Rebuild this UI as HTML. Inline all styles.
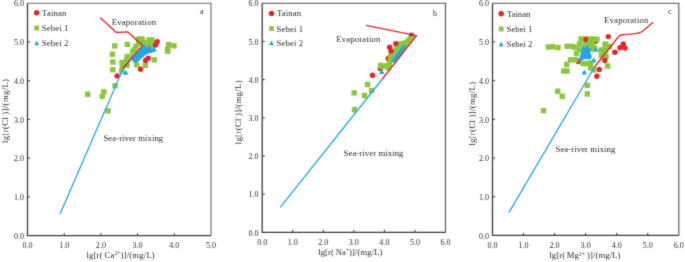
<!DOCTYPE html>
<html><head><meta charset="utf-8"><style>
html,body{margin:0;padding:0;background:#fff;width:685px;height:262px;overflow:hidden}
svg{display:block;will-change:transform}
text{font-family:"Liberation Serif", serif;fill:#2e2e2e}
</style></head><body>
<svg width="685" height="262" viewBox="0 0 685 262">
<defs><filter id="soft" filterUnits="userSpaceOnUse" x="0" y="0" width="685" height="262" color-interpolation-filters="sRGB"><feConvolveMatrix order="3" kernelMatrix="1 2 1 2 20 2 1 2 1" divisor="32" edgeMode="duplicate"/></filter></defs>
<g filter="url(#soft)">
<rect width="685" height="262" fill="#fff"/>
<path d="M27.5 3.2H211.0V235.6" fill="none" stroke="#6c6c6c" stroke-width="1.1"/>
<path d="M27.5 3.2V235.6H211.0" fill="none" stroke="#3c3c3c" stroke-width="1.3"/>
<path d="M64.20 235.6v-2.6 M100.90 235.6v-2.6 M137.60 235.6v-2.6 M174.30 235.6v-2.6 M27.5 196.87h2.6 M27.5 158.13h2.6 M27.5 119.40h2.6 M27.5 80.67h2.6 M27.5 41.93h2.6" stroke="#3c3c3c" stroke-width="1"/>
<text x="27.50" y="247.70" font-size="8.1" text-anchor="middle" >0.0</text>
<text x="64.20" y="247.70" font-size="8.1" text-anchor="middle" >1.0</text>
<text x="100.90" y="247.70" font-size="8.1" text-anchor="middle" >2.0</text>
<text x="137.60" y="247.70" font-size="8.1" text-anchor="middle" >3.0</text>
<text x="174.30" y="247.70" font-size="8.1" text-anchor="middle" >4.0</text>
<text x="211.00" y="247.70" font-size="8.1" text-anchor="middle" >5.0</text>
<text x="23.90" y="238.80" font-size="8" text-anchor="end" >0.0</text>
<text x="23.90" y="200.07" font-size="8" text-anchor="end" >1.0</text>
<text x="23.90" y="161.33" font-size="8" text-anchor="end" >2.0</text>
<text x="23.90" y="122.60" font-size="8" text-anchor="end" >3.0</text>
<text x="23.90" y="83.87" font-size="8" text-anchor="end" >4.0</text>
<text x="23.90" y="45.13" font-size="8" text-anchor="end" >5.0</text>
<text x="23.90" y="6.40" font-size="8" text-anchor="end" >6.0</text>
<path d="M262.2 3.2H445.5V232.4" fill="none" stroke="#505050" stroke-width="1.1"/>
<path d="M262.2 3.2V232.4H445.5" fill="none" stroke="#3c3c3c" stroke-width="1.3"/>
<path d="M292.75 232.4v-2.6 M323.30 232.4v-2.6 M353.85 232.4v-2.6 M384.40 232.4v-2.6 M414.95 232.4v-2.6 M262.2 194.20h2.6 M262.2 156.00h2.6 M262.2 117.80h2.6 M262.2 79.60h2.6 M262.2 41.40h2.6" stroke="#3c3c3c" stroke-width="1"/>
<text x="262.20" y="244.50" font-size="8.1" text-anchor="middle" >0.0</text>
<text x="292.75" y="244.50" font-size="8.1" text-anchor="middle" >1.0</text>
<text x="323.30" y="244.50" font-size="8.1" text-anchor="middle" >2.0</text>
<text x="353.85" y="244.50" font-size="8.1" text-anchor="middle" >3.0</text>
<text x="384.40" y="244.50" font-size="8.1" text-anchor="middle" >4.0</text>
<text x="414.95" y="244.50" font-size="8.1" text-anchor="middle" >5.0</text>
<text x="445.50" y="244.50" font-size="8.1" text-anchor="middle" >6.0</text>
<text x="258.60" y="235.60" font-size="8" text-anchor="end" >0.0</text>
<text x="258.60" y="197.40" font-size="8" text-anchor="end" >1.0</text>
<text x="258.60" y="159.20" font-size="8" text-anchor="end" >2.0</text>
<text x="258.60" y="121.00" font-size="8" text-anchor="end" >3.0</text>
<text x="258.60" y="82.80" font-size="8" text-anchor="end" >4.0</text>
<text x="258.60" y="44.60" font-size="8" text-anchor="end" >5.0</text>
<text x="258.60" y="6.40" font-size="8" text-anchor="end" >6.0</text>
<path d="M492.5 3.2H678.8V235.4" fill="none" stroke="#555555" stroke-width="1.1"/>
<path d="M492.5 3.2V235.4H678.8" fill="none" stroke="#3c3c3c" stroke-width="1.3"/>
<path d="M523.55 235.4v-2.6 M554.60 235.4v-2.6 M585.65 235.4v-2.6 M616.70 235.4v-2.6 M647.75 235.4v-2.6 M492.5 196.70h2.6 M492.5 158.00h2.6 M492.5 119.30h2.6 M492.5 80.60h2.6 M492.5 41.90h2.6" stroke="#3c3c3c" stroke-width="1"/>
<text x="492.50" y="247.50" font-size="8.1" text-anchor="middle" >0.0</text>
<text x="523.55" y="247.50" font-size="8.1" text-anchor="middle" >1.0</text>
<text x="554.60" y="247.50" font-size="8.1" text-anchor="middle" >2.0</text>
<text x="585.65" y="247.50" font-size="8.1" text-anchor="middle" >3.0</text>
<text x="616.70" y="247.50" font-size="8.1" text-anchor="middle" >4.0</text>
<text x="647.75" y="247.50" font-size="8.1" text-anchor="middle" >5.0</text>
<text x="678.80" y="247.50" font-size="8.1" text-anchor="middle" >6.0</text>
<text x="488.90" y="238.60" font-size="8" text-anchor="end" >0.0</text>
<text x="488.90" y="199.90" font-size="8" text-anchor="end" >1.0</text>
<text x="488.90" y="161.20" font-size="8" text-anchor="end" >2.0</text>
<text x="488.90" y="122.50" font-size="8" text-anchor="end" >3.0</text>
<text x="488.90" y="83.80" font-size="8" text-anchor="end" >4.0</text>
<text x="488.90" y="45.10" font-size="8" text-anchor="end" >5.0</text>
<text x="488.90" y="6.40" font-size="8" text-anchor="end" >6.0</text>
<circle cx="36.70" cy="12.80" r="2.75" fill="#e8222b"/>
<rect x="34.30" y="25.70" width="4.8" height="4.8" fill="#8cc63e"/>
<path d="M36.70 40.70L39.20 45.30L34.20 45.30Z" fill="#23a6e2"/>
<text x="42.1" y="15.70" font-size="8.7" text-anchor="start" letter-spacing="0.14">Tainan</text>
<text x="41.80" y="31.00" font-size="8.7" text-anchor="start" letter-spacing="0.14">Sebei 1</text>
<text x="41.80" y="45.90" font-size="8.7" text-anchor="start" letter-spacing="0.14">Sebei 2</text>
<circle cx="271.50" cy="13.40" r="2.75" fill="#e8222b"/>
<rect x="269.10" y="26.20" width="4.8" height="4.8" fill="#8cc63e"/>
<path d="M271.50 40.60L274.00 45.20L269.00 45.20Z" fill="#23a6e2"/>
<text x="276.9" y="16.30" font-size="8.7" text-anchor="start" letter-spacing="0.12">Tainan</text>
<text x="276.60" y="31.50" font-size="8.7" text-anchor="start" letter-spacing="0.12">Sebei 1</text>
<text x="276.60" y="45.80" font-size="8.7" text-anchor="start" letter-spacing="0.12">Sebei 2</text>
<circle cx="501.20" cy="13.70" r="2.75" fill="#e8222b"/>
<rect x="498.80" y="26.60" width="4.8" height="4.8" fill="#8cc63e"/>
<path d="M501.20 41.80L503.70 46.40L498.70 46.40Z" fill="#23a6e2"/>
<text x="506.9" y="16.60" font-size="8.7" text-anchor="start" letter-spacing="0.0">Tainan</text>
<text x="506.60" y="31.90" font-size="8.7" text-anchor="start" letter-spacing="0.0">Sebei 1</text>
<text x="506.60" y="47.00" font-size="8.7" text-anchor="start" letter-spacing="0.0">Sebei 2</text>
<text x="201.7" y="14.3" font-size="8" text-anchor="middle" >a</text>
<text x="435.1" y="15.8" font-size="8" text-anchor="middle" >b</text>
<text x="669.7" y="14.2" font-size="8" text-anchor="middle" >c</text>
<text x="111.7" y="24.8" font-size="8.8" text-anchor="start" letter-spacing="0.14">Evaporation</text>
<text x="336.2" y="42.2" font-size="8.7" text-anchor="start" letter-spacing="0.18">Evaporation</text>
<text x="604.1" y="23.0" font-size="8.7" text-anchor="start" letter-spacing="0.18">Evaporation</text>
<text x="103.4" y="140.8" font-size="8.7" text-anchor="start" letter-spacing="0.08">Sea-river mixing</text>
<text x="343.6" y="156.0" font-size="8.7" text-anchor="start" letter-spacing="0.08">Sea-river mixing</text>
<text x="555.5" y="151.9" font-size="8.7" text-anchor="start" letter-spacing="0.08">Sea-river mixing</text>
<text x="86.4" y="257.5" font-size="8.6" letter-spacing="0.22">lg[r( <tspan dx="-0.6">Ca</tspan><tspan font-size="5.2" dy="-2.6">2+</tspan><tspan dy="2.6">)]/(mg/L)</tspan></text>
<text x="318.2" y="254.9" font-size="8.6" letter-spacing="0.12">lg[r( <tspan dx="-0.6">Na</tspan><tspan font-size="5.2" dy="-2.6">+</tspan><tspan dy="2.6">)]/(mg/L)</tspan></text>
<text x="549.3" y="258.4" font-size="8.6" letter-spacing="0.12">lg[r( <tspan dx="-0.6">Mg</tspan><tspan font-size="5.2" dy="-2.6">2+</tspan><tspan dy="2.6"> )]/(mg/L)</tspan></text>
<text transform="translate(7.6,110.8) rotate(-90)" font-size="8.6" text-anchor="middle" letter-spacing="0.4">lg[r(Cl<tspan font-size="5" dy="-3">-</tspan><tspan dy="3">)]/(mg/L)</tspan></text>
<text transform="translate(241.4,112.2) rotate(-90)" font-size="8.6" text-anchor="middle" letter-spacing="0.4">lg[r(Cl<tspan font-size="5" dy="-3">-</tspan><tspan dy="3">)]/(mg/L)</tspan></text>
<text transform="translate(475.4,113.7) rotate(-90)" font-size="8.6" text-anchor="middle" letter-spacing="0.4">lg[r(Cl<tspan font-size="5" dy="-3">-</tspan><tspan dy="3">)]/(mg/L)</tspan></text>
<rect x="112.10" y="43.20" width="5.4" height="5.4" fill="#8cc63e"/>
<rect x="124.60" y="41.70" width="5.4" height="5.4" fill="#8cc63e"/>
<rect x="109.70" y="51.50" width="5.4" height="5.4" fill="#8cc63e"/>
<rect x="110.10" y="59.30" width="5.4" height="5.4" fill="#8cc63e"/>
<rect x="110.10" y="67.00" width="5.4" height="5.4" fill="#8cc63e"/>
<rect x="119.30" y="59.80" width="5.4" height="5.4" fill="#8cc63e"/>
<rect x="123.80" y="57.50" width="5.4" height="5.4" fill="#8cc63e"/>
<rect x="124.50" y="53.80" width="5.4" height="5.4" fill="#8cc63e"/>
<rect x="119.00" y="68.20" width="5.4" height="5.4" fill="#8cc63e"/>
<rect x="112.30" y="83.00" width="5.4" height="5.4" fill="#8cc63e"/>
<rect x="101.20" y="89.20" width="5.4" height="5.4" fill="#8cc63e"/>
<rect x="99.50" y="93.70" width="5.4" height="5.4" fill="#8cc63e"/>
<rect x="85.00" y="91.50" width="5.4" height="5.4" fill="#8cc63e"/>
<rect x="105.30" y="108.20" width="5.4" height="5.4" fill="#8cc63e"/>
<rect x="135.80" y="36.30" width="5.4" height="5.4" fill="#8cc63e"/>
<rect x="139.30" y="36.30" width="5.4" height="5.4" fill="#8cc63e"/>
<rect x="146.30" y="37.30" width="5.4" height="5.4" fill="#8cc63e"/>
<rect x="149.30" y="37.30" width="5.4" height="5.4" fill="#8cc63e"/>
<rect x="148.80" y="40.80" width="5.4" height="5.4" fill="#8cc63e"/>
<rect x="144.30" y="39.80" width="5.4" height="5.4" fill="#8cc63e"/>
<rect x="135.80" y="40.80" width="5.4" height="5.4" fill="#8cc63e"/>
<rect x="140.80" y="39.80" width="5.4" height="5.4" fill="#8cc63e"/>
<rect x="133.30" y="43.80" width="5.4" height="5.4" fill="#8cc63e"/>
<rect x="131.60" y="47.10" width="5.4" height="5.4" fill="#8cc63e"/>
<rect x="130.10" y="48.80" width="5.4" height="5.4" fill="#8cc63e"/>
<rect x="127.80" y="54.30" width="5.4" height="5.4" fill="#8cc63e"/>
<rect x="124.30" y="62.60" width="5.4" height="5.4" fill="#8cc63e"/>
<rect x="119.80" y="63.80" width="5.4" height="5.4" fill="#8cc63e"/>
<rect x="144.50" y="42.30" width="5.4" height="5.4" fill="#8cc63e"/>
<rect x="149.30" y="43.30" width="5.4" height="5.4" fill="#8cc63e"/>
<rect x="151.60" y="57.10" width="5.4" height="5.4" fill="#8cc63e"/>
<rect x="133.90" y="62.10" width="5.4" height="5.4" fill="#8cc63e"/>
<rect x="142.60" y="62.60" width="5.4" height="5.4" fill="#8cc63e"/>
<rect x="166.00" y="41.90" width="5.4" height="5.4" fill="#8cc63e"/>
<rect x="171.20" y="43.10" width="5.4" height="5.4" fill="#8cc63e"/>
<rect x="164.80" y="46.80" width="5.4" height="5.4" fill="#8cc63e"/>
<rect x="165.10" y="48.60" width="5.4" height="5.4" fill="#8cc63e"/>
<path d="M130.8 59.2 L142.2 45.7 L144.9 45.1 L146.8 48 L149.1 44.8 L151.7 49.2 L154 47.1 L156.9 50.9 L153.3 52.2 L148.7 53.4 L145.6 54.9 L142.6 57.6 L139.5 60.5 L136 62.8 L134 62.5Z" fill="#23a6e2"/>
<path d="M132.60 55.30L135.40 60.30L129.80 60.30Z" fill="#23a6e2"/>
<path d="M125.70 69.80L128.50 74.80L122.90 74.80Z" fill="#23a6e2"/>
<circle cx="157.20" cy="41.60" r="2.7" fill="#e8222b"/>
<circle cx="155.60" cy="45.00" r="2.7" fill="#e8222b"/>
<circle cx="145.60" cy="60.40" r="2.7" fill="#e8222b"/>
<circle cx="148.20" cy="58.10" r="2.7" fill="#e8222b"/>
<circle cx="140.50" cy="69.30" r="2.7" fill="#e8222b"/>
<circle cx="117.10" cy="75.90" r="2.7" fill="#e8222b"/>
<path d="M60 214 L123.2 68.6 L143.4 45.6" fill="none" stroke="#23a6e2" stroke-width="1.3"/>
<path d="M100 17.4 L116.5 32.5 L127.8 31.9 L142.6 45.4 L122.6 68.6" fill="none" stroke="#e8222b" stroke-width="1.3"/>
<circle cx="411.50" cy="35.30" r="2.7" fill="#e8222b"/>
<circle cx="380.30" cy="68.60" r="2.7" fill="#e8222b"/>
<circle cx="388.20" cy="58.40" r="2.7" fill="#e8222b"/>
<path d="M416.5 35.6 L413.6 36.1 L407.9 36.5 L407.2 37.6 L405.6 39.2 L404.1 40.3 L401.8 41.1 L397.7 41.6 L395.5 43.5 L393.4 48.5 L388.6 53.7 L387.6 55 L387.6 62.5 L395.6 62.5 Z" fill="#8cc63e"/>
<rect x="364.80" y="81.80" width="5.4" height="5.4" fill="#8cc63e"/>
<rect x="351.50" y="90.20" width="5.4" height="5.4" fill="#8cc63e"/>
<rect x="361.80" y="92.80" width="5.4" height="5.4" fill="#8cc63e"/>
<rect x="368.80" y="87.90" width="5.4" height="5.4" fill="#8cc63e"/>
<rect x="351.80" y="107.00" width="5.4" height="5.4" fill="#8cc63e"/>
<rect x="378.00" y="62.70" width="5.4" height="5.4" fill="#8cc63e"/>
<rect x="383.90" y="63.20" width="5.4" height="5.4" fill="#8cc63e"/>
<rect x="385.30" y="65.10" width="5.4" height="5.4" fill="#8cc63e"/>
<rect x="386.80" y="61.30" width="5.4" height="5.4" fill="#8cc63e"/>
<rect x="378.80" y="63.80" width="5.4" height="5.4" fill="#8cc63e"/>
<circle cx="389.60" cy="47.30" r="2.7" fill="#e8222b"/>
<circle cx="391.00" cy="51.00" r="2.7" fill="#e8222b"/>
<circle cx="395.80" cy="43.60" r="2.7" fill="#e8222b"/>
<path d="M390.5 62.2 L403.6 44.2 L405.9 47.3 L394.9 62.2Z" fill="#23a6e2"/>
<path d="M381.80 69.10L384.60 74.10L379.00 74.10Z" fill="#23a6e2"/>
<circle cx="372.50" cy="75.30" r="2.7" fill="#e8222b"/>
<path d="M280.2 207.4 L382 79.5" fill="none" stroke="#23a6e2" stroke-width="1.3"/>
<path d="M382 79.5 L416.5 35.6 L366.1 25.4" fill="none" stroke="#e8222b" stroke-width="1.3"/>
<circle cx="595.60" cy="41.20" r="2.7" fill="#e8222b"/>
<circle cx="578.20" cy="61.50" r="2.7" fill="#e8222b"/>
<rect x="545.80" y="44.30" width="5.4" height="5.4" fill="#8cc63e"/>
<rect x="549.80" y="44.10" width="5.4" height="5.4" fill="#8cc63e"/>
<rect x="555.30" y="44.90" width="5.4" height="5.4" fill="#8cc63e"/>
<rect x="564.40" y="43.60" width="5.4" height="5.4" fill="#8cc63e"/>
<rect x="569.60" y="43.80" width="5.4" height="5.4" fill="#8cc63e"/>
<rect x="572.30" y="44.80" width="5.4" height="5.4" fill="#8cc63e"/>
<rect x="578.30" y="36.30" width="5.4" height="5.4" fill="#8cc63e"/>
<rect x="576.80" y="41.30" width="5.4" height="5.4" fill="#8cc63e"/>
<rect x="576.80" y="46.80" width="5.4" height="5.4" fill="#8cc63e"/>
<rect x="573.80" y="50.80" width="5.4" height="5.4" fill="#8cc63e"/>
<rect x="567.80" y="57.10" width="5.4" height="5.4" fill="#8cc63e"/>
<rect x="572.80" y="57.10" width="5.4" height="5.4" fill="#8cc63e"/>
<rect x="564.10" y="61.70" width="5.4" height="5.4" fill="#8cc63e"/>
<rect x="561.10" y="68.30" width="5.4" height="5.4" fill="#8cc63e"/>
<rect x="564.30" y="68.30" width="5.4" height="5.4" fill="#8cc63e"/>
<rect x="555.00" y="88.50" width="5.4" height="5.4" fill="#8cc63e"/>
<rect x="559.50" y="93.60" width="5.4" height="5.4" fill="#8cc63e"/>
<rect x="540.80" y="108.00" width="5.4" height="5.4" fill="#8cc63e"/>
<rect x="584.60" y="82.60" width="5.4" height="5.4" fill="#8cc63e"/>
<rect x="584.60" y="91.20" width="5.4" height="5.4" fill="#8cc63e"/>
<rect x="580.30" y="60.80" width="5.4" height="5.4" fill="#8cc63e"/>
<rect x="584.30" y="60.80" width="5.4" height="5.4" fill="#8cc63e"/>
<rect x="588.30" y="60.30" width="5.4" height="5.4" fill="#8cc63e"/>
<rect x="591.00" y="67.20" width="5.4" height="5.4" fill="#8cc63e"/>
<rect x="587.80" y="65.30" width="5.4" height="5.4" fill="#8cc63e"/>
<rect x="581.30" y="36.30" width="5.4" height="5.4" fill="#8cc63e"/>
<rect x="586.30" y="36.30" width="5.4" height="5.4" fill="#8cc63e"/>
<rect x="591.30" y="36.30" width="5.4" height="5.4" fill="#8cc63e"/>
<rect x="594.30" y="36.80" width="5.4" height="5.4" fill="#8cc63e"/>
<rect x="589.30" y="41.30" width="5.4" height="5.4" fill="#8cc63e"/>
<rect x="589.30" y="46.10" width="5.4" height="5.4" fill="#8cc63e"/>
<rect x="591.80" y="45.30" width="5.4" height="5.4" fill="#8cc63e"/>
<rect x="582.50" y="41.30" width="5.4" height="5.4" fill="#8cc63e"/>
<rect x="585.80" y="40.80" width="5.4" height="5.4" fill="#8cc63e"/>
<rect x="602.80" y="41.30" width="5.4" height="5.4" fill="#8cc63e"/>
<rect x="606.80" y="43.90" width="5.4" height="5.4" fill="#8cc63e"/>
<rect x="598.30" y="47.30" width="5.4" height="5.4" fill="#8cc63e"/>
<rect x="602.30" y="47.80" width="5.4" height="5.4" fill="#8cc63e"/>
<rect x="598.80" y="52.80" width="5.4" height="5.4" fill="#8cc63e"/>
<rect x="603.30" y="53.80" width="5.4" height="5.4" fill="#8cc63e"/>
<rect x="604.90" y="63.30" width="5.4" height="5.4" fill="#8cc63e"/>
<rect x="602.30" y="42.30" width="5.4" height="5.4" fill="#8cc63e"/>
<circle cx="586.00" cy="39.40" r="2.6" fill="#e8222b"/>
<rect x="587.70" y="37.50" width="5.4" height="5.4" fill="#8cc63e"/>
<path d="M578.8 60.5 L581.2 51 L583.1 44.8 L585.5 47.5 L587.9 44.8 L590.7 50.5 L590.3 53 L591.9 56.7 L590.3 59.5 L584.5 59 L582.2 60.5Z" fill="#23a6e2"/>
<path d="M596.00 46.80L598.80 51.80L593.20 51.80Z" fill="#23a6e2"/>
<path d="M593.80 57.30L596.60 62.30L591.00 62.30Z" fill="#23a6e2"/>
<path d="M584.30 69.50L587.10 74.50L581.50 74.50Z" fill="#23a6e2"/>
<circle cx="608.30" cy="36.60" r="2.7" fill="#e8222b"/>
<circle cx="623.30" cy="44.00" r="2.7" fill="#e8222b"/>
<circle cx="620.00" cy="47.80" r="2.7" fill="#e8222b"/>
<circle cx="625.00" cy="48.00" r="2.7" fill="#e8222b"/>
<circle cx="614.90" cy="52.30" r="2.7" fill="#e8222b"/>
<circle cx="604.80" cy="60.50" r="2.7" fill="#e8222b"/>
<circle cx="599.30" cy="69.50" r="2.7" fill="#e8222b"/>
<circle cx="596.90" cy="76.20" r="2.7" fill="#e8222b"/>
<path d="M508.9 212.7 L594.2 67.5" fill="none" stroke="#23a6e2" stroke-width="1.3"/>
<path d="M594.2 67.5 L618.6 36.5 C620.5 34.5 623 34.4 630.6 34.1 C636 33.8 640 33.2 642.5 31.3 L653.1 22.3" fill="none" stroke="#e8222b" stroke-width="1.3"/>
</g>
</svg>
</body></html>
